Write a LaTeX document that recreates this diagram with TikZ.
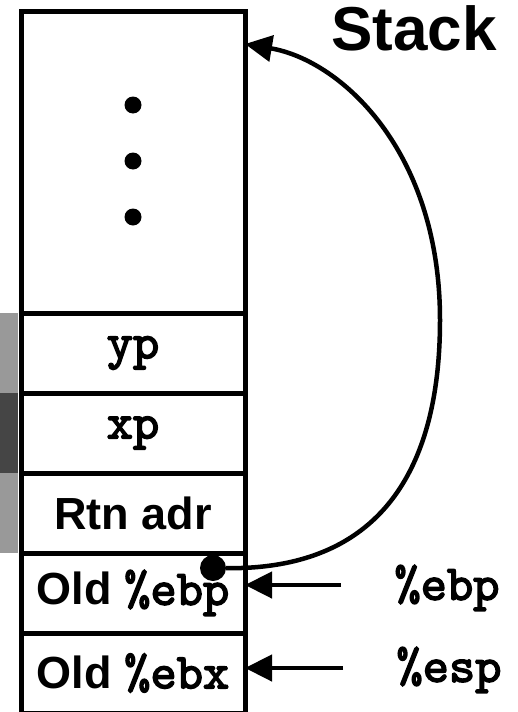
\documentclass[tikz,border=0pt]{standalone}
\usepackage{fontspec}
\setsansfont{Liberation Sans}
\font\regfont="[lmmono10-regular.otf]:embolden=3" at 50pt
\usetikzlibrary{
	arrows.meta,
	positioning,
}
\definecolor{barlight}{gray}{0.6}
\definecolor{bardark}{gray}{0.27}
\newcommand{\regname}[1]{{\regfont #1}}
\tikzset{cell/.style={
	draw,
	line width=5pt,
	minimum width=224pt,
	minimum height=80pt,
	inner sep=0pt,
	outer sep=0pt,
	font=\sffamily\bfseries\fontsize{45}{45}\selectfont,
}}
\tikzset{ptr/.style={
	-{Triangle[length=27pt,width=26pt]},
	line width=4.5pt,
}}

\begin{document}
\begin{tikzpicture}[x=1pt,y=-1pt]
\useasboundingbox (0,0) rectangle (518,712);

\fill[barlight] (0,313) rectangle (18,393);
\fill[bardark] (0,393) rectangle (18,473);
\fill[barlight] (0,473) rectangle (18,553);

\node(top)[cell, minimum height=302pt] at (133,162) {};
\node(yp)[cell, below=0pt of top] {\regname{yp}};
\node(xp)[cell, below=0pt of yp] {\regname{xp}};
\node(rtn)[cell, below=0pt of xp] {Rtn adr};
\node(oldebp)[cell, below=0pt of rtn] {Old \regname{\%ebp}};
\node(oldebx)[cell, below=0pt of oldebp] {Old \regname{\%ebx}};

\foreach \y in {105,161,217}
\fill (133,\y) circle (8.5pt);

\node(title)[font=\sffamily\bfseries\fontsize{62}{62}\selectfont] at (414,28) {Stack};

\node(bpreg) at (447,588) {\regname{\%ebp}};
\node(spreg) at (449,670) {\regname{\%esp}};
\coordinate(bptail) at (341,585);
\coordinate(sptail) at (343,668);
\draw[ptr] (bptail) -- (bptail -| oldebp.east);
\draw[ptr] (sptail) -- (sptail -| oldebx.east);

\node(bpdot)[fill, circle, inner sep=0pt, minimum size=26pt] at (213,568) {};
\coordinate(bend) at (440,320);
\draw[ptr] (bpdot) .. controls (380,570) and (440,470) .. (bend)
	.. controls (440,150) and (340,60) .. ([yshift=-33pt]top.north east);

\end{tikzpicture}
\end{document}
